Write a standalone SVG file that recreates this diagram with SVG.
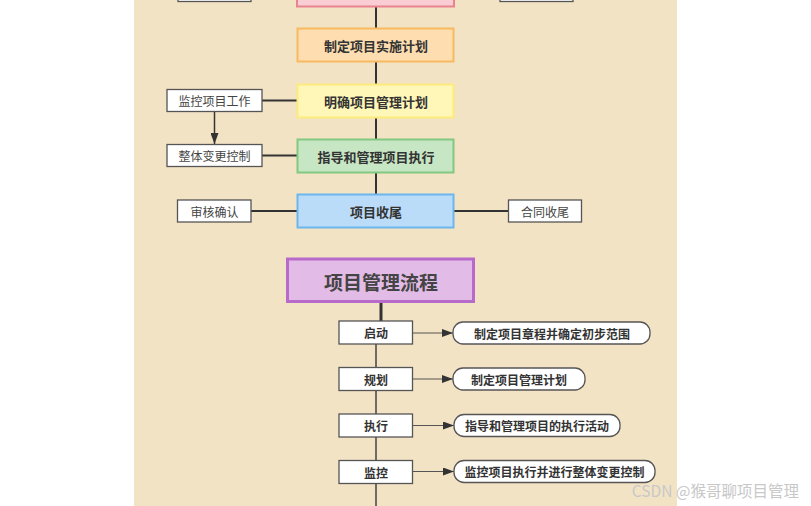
<svg xmlns="http://www.w3.org/2000/svg" width="811" height="506" viewBox="0 0 811 506">
<style>
.t{font-family:"Noto Sans CJK SC","Noto Sans",sans-serif;dominant-baseline:central;text-anchor:middle}
.cb{font-size:13px;font-weight:bold;fill:#333}
.wb{fill:#fff;stroke:#555;stroke-width:1.3}
.wt{font-size:12px;fill:#444}
.bt{font-size:12px;font-weight:bold;fill:#333}
.ln{stroke:#333;stroke-width:2;fill:none}
.tn{stroke:#444;stroke-width:1.5;fill:none}
.ar{stroke:#555;stroke-width:1;fill:none}
</style>
<defs>
<marker id="ah" markerUnits="userSpaceOnUse" markerWidth="11" markerHeight="8" refX="11" refY="4" orient="auto">
<path d="M0,0 L11,4 L0,8 Z" fill="#333"/>
</marker>
</defs>
<rect x="0" y="0" width="811" height="506" fill="#fff"/>
<rect x="134" y="0" width="543" height="506" fill="#F3E3C5"/>

<g id="connectors">
<line class="ln" x1="376" y1="7" x2="376" y2="28"/>
<line class="ln" x1="376" y1="62" x2="376" y2="84"/>
<line class="ln" x1="376" y1="118" x2="376" y2="139"/>
<line class="ln" x1="376" y1="173" x2="376" y2="194"/>
<line class="ln" x1="262" y1="100.5" x2="297" y2="100.5"/>
<line class="ln" x1="262" y1="155.5" x2="297" y2="155.5"/>
<line class="ln" x1="251" y1="211" x2="297" y2="211"/>
<line class="ln" x1="454" y1="211" x2="508" y2="211"/>
<line stroke="#333" stroke-width="1.5" x1="214.5" y1="112" x2="214.5" y2="144" marker-end="url(#ah)"/>
<line stroke="#333" stroke-width="3" x1="381" y1="302" x2="381" y2="321"/>
<line class="tn" x1="376" y1="344" x2="376" y2="367"/>
<line class="tn" x1="376" y1="390" x2="376" y2="414"/>
<line class="tn" x1="376" y1="437" x2="376" y2="460"/>
<line class="tn" x1="376" y1="483" x2="376" y2="506"/>
<line class="ar" x1="413" y1="333" x2="453" y2="333" marker-end="url(#ah)"/>
<line class="ar" x1="413" y1="379" x2="453" y2="379" marker-end="url(#ah)"/>
<line class="ar" x1="413" y1="425.5" x2="454" y2="425.5" marker-end="url(#ah)"/>
<line class="ar" x1="413" y1="471.5" x2="454" y2="471.5" marker-end="url(#ah)"/>
</g>

<g id="top-left"><rect class="wb" x="178" y="-20" width="73" height="21.5"/></g>
<g id="top-right"><rect class="wb" x="500" y="-20" width="73" height="21.5"/></g>
<g id="top-pink"><rect x="297" y="-30" width="157" height="36.5" fill="#F9CDD3" stroke="#E9848F" stroke-width="2"/></g>

<g id="n-plan"><rect x="297.5" y="28.5" width="156" height="33" fill="#FEDEB0" stroke="#F8BA60" stroke-width="2"/><text class="t cb" x="376" y="45.5">制定项目实施计划</text></g>
<g id="n-mgmt"><rect x="297.5" y="84.5" width="156" height="33" fill="#FFF7B8" stroke="#FCEB7C" stroke-width="2"/><text class="t cb" x="376" y="101">明确项目管理计划</text></g>
<g id="n-exec"><rect x="297.5" y="139.5" width="156" height="33" fill="#C6E6C4" stroke="#82C880" stroke-width="2"/><text class="t cb" x="376" y="156">指导和管理项目执行</text></g>
<g id="n-close"><rect x="297.5" y="194.5" width="156" height="33" fill="#BADCF8" stroke="#6CB6EE" stroke-width="2"/><text class="t cb" x="376" y="211">项目收尾</text></g>

<g id="n-monitor"><rect class="wb" x="167" y="89.5" width="95" height="22"/><text class="t wt" x="214.5" y="100.5">监控项目工作</text></g>
<g id="n-change"><rect class="wb" x="167" y="144.5" width="95" height="22"/><text class="t wt" x="214.5" y="155.5">整体变更控制</text></g>
<g id="n-verify"><rect class="wb" x="177.5" y="200" width="73.5" height="22"/><text class="t wt" x="214.5" y="211">审核确认</text></g>
<g id="n-contract"><rect class="wb" x="508.5" y="200" width="73" height="22"/><text class="t wt" x="545" y="211">合同收尾</text></g>

<g id="n-title"><rect x="287.5" y="259" width="186" height="42.5" fill="#E2BBE6" stroke="#B86ACA" stroke-width="3"/><text class="t" x="381" y="281" font-size="19" font-weight="bold" fill="#444">项目管理流程</text></g>

<g id="s1"><rect class="wb" x="339" y="321" width="73.5" height="23"/><text class="t bt" x="376" y="332.5">启动</text></g>
<g id="s2"><rect class="wb" x="339" y="367.5" width="73.5" height="23"/><text class="t bt" x="376" y="379">规划</text></g>
<g id="s3"><rect class="wb" x="339" y="414" width="73.5" height="23"/><text class="t bt" x="376" y="425.5">执行</text></g>
<g id="s4"><rect class="wb" x="339" y="460.5" width="73.5" height="23"/><text class="t bt" x="376" y="472">监控</text></g>

<g id="p1"><rect class="wb" x="453" y="322" width="197" height="22" rx="10"/><text class="t bt" x="552" y="333">制定项目章程并确定初步范围</text></g>
<g id="p2"><rect class="wb" x="453" y="368" width="132" height="22" rx="10"/><text class="t bt" x="519" y="379">制定项目管理计划</text></g>
<g id="p3"><rect class="wb" x="454" y="414.5" width="166" height="22" rx="10"/><text class="t bt" x="537" y="425.5">指导和管理项目的执行活动</text></g>
<g id="p4"><rect class="wb" x="454" y="460.5" width="201" height="22" rx="10"/><text class="t bt" x="554.5" y="471.5">监控项目执行并进行整体变更控制</text></g>

<text x="799" y="490" font-family="'Noto Sans CJK SC','Noto Sans',sans-serif" font-size="15.5" fill="#C8C8C8" text-anchor="end" dominant-baseline="central">CSDN @猴哥聊项目管理</text>
</svg>
